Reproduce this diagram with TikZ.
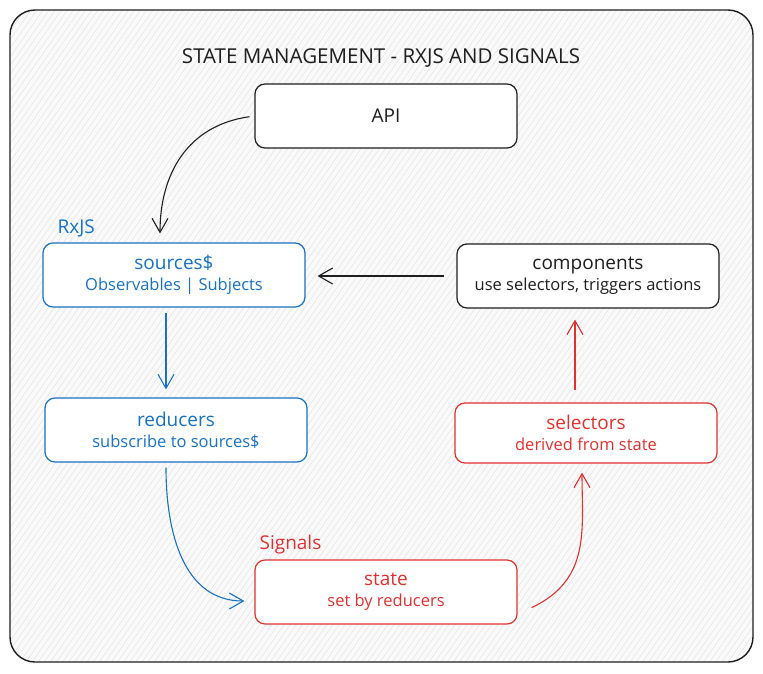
\documentclass[tikz,border=0pt]{standalone}
\usepackage{fontspec}
\setmainfont{Open Sans}
\usepackage{xcolor}
\usepackage{tikz}
\usetikzlibrary{arrows.meta,positioning,calc,patterns.meta}
\definecolor{ink}{HTML}{1E1E1E}
\definecolor{rxblue}{HTML}{1971C2}
\definecolor{sigred}{HTML}{E03131}
\definecolor{paper}{HTML}{FAFAFB}
\newcommand{\titlefont}{\fontsize{20.5}{24}\selectfont}
\newcommand{\headfont}{\fontsize{19}{22}\selectfont}
\newcommand{\subfont}{\fontsize{16.5}{21}\selectfont}
\newcommand{\tagfont}{\fontsize{19}{22}\selectfont}
\tikzstyle{plainbox} = [rectangle, rounded corners=10, minimum width=262, minimum height=64, align=center, draw=ink, text=ink, fill=white, line width=1.2, font=\subfont]
\tikzstyle{rxjsbox} = [plainbox, draw=rxblue, text=rxblue]
\tikzstyle{signalbox} = [plainbox, draw=sigred, text=sigred]
\tikzstyle{arrow} = [line width=1.1, -{Straight Barb[length=14, width=16]}]

\begin{document}
\begin{tikzpicture}[x=1pt, y=-1pt]
\useasboundingbox (0,0) rectangle (763,673);

% Frame
\draw [ink, line width=1.4, rounded corners=25, preaction={fill=paper}, pattern={Lines[angle=55, distance=5, line width=0.5]}, pattern color=gray!22] (10,10) rectangle (753,662);
\node (title) [text=ink, font=\titlefont] at (381,58) {STATE MANAGEMENT - RXJS AND SIGNALS};

% Boxes
\node (api) [plainbox] at (386,116) {\headfont API};
\node (sources) [rxjsbox] at (174,275) {{\headfont sources\$}\\Observables | Subjects};
\node (components) [plainbox] at (588,276) {{\headfont components}\\use selectors, triggers actions};
\node (reducers) [rxjsbox] at (176,430) {{\headfont reducers}\\subscribe to sources\$};
\node (selectors) [signalbox, minimum height=60] at (586,433) {{\headfont selectors}\\derived from state};
\node (state) [signalbox] at (386,592) {{\headfont state}\\set by reducers};

% Group labels
\node (rxjstag) [anchor=south west, inner sep=1, text=rxblue, font=\tagfont] at ([xshift=14, yshift=4]sources.north west) {RxJS};
\node (signalstag) [anchor=south west, inner sep=1, text=sigred, font=\tagfont] at ([xshift=4, yshift=4]state.north west) {Signals};

% Arrows
\draw [arrow, ink, shorten <=5, shorten >=9] (api.west) to[out=188, in=90, looseness=1.1] ([xshift=-14]sources.north);
\draw [arrow, ink, shorten <=12, shorten >=12] (components.west) -- (components.west -| sources.east);
\draw [arrow, rxblue, shorten <=5, shorten >=8] ([xshift=-8]sources.south) -- ([xshift=-8]sources.south |- reducers.north);
\draw [arrow, rxblue, shorten <=5, shorten >=10] ([xshift=-10]reducers.south) to[out=-90, in=180, looseness=1.1] ([yshift=-9]state.west);
\draw [arrow, sigred, shorten <=0, shorten >=9] ([xshift=14, yshift=17]state.south east) to[out=25, in=-90, looseness=1.1] ([xshift=-4]selectors.south);
\draw [arrow, sigred, shorten <=12, shorten >=11] ([xshift=-11]selectors.north) -- ([xshift=-11]selectors.north |- components.south);

\end{tikzpicture}
\end{document}
